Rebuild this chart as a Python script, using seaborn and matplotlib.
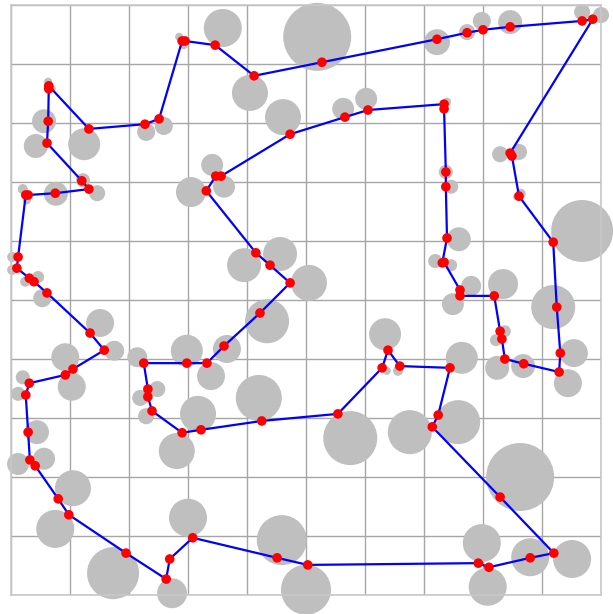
import numpy as np
import pandas as pd
import matplotlib
matplotlib.use("Agg")
import matplotlib.pyplot as plt
from matplotlib.patches import Circle
import seaborn as sns

# Route (tour) node coordinates, in visiting order (closed loop)
route_x = [0.64, 1.32, 2.27, 2.51, 2.90, 2.95, 3.46, 4.12, 5.27, 7.22,
           7.73, 8.00, 8.46, 9.68, 9.86, 8.46, 8.49, 8.61, 9.19, 9.25,
           9.31, 9.29, 8.69, 8.37, 8.32, 8.29, 8.19, 7.61, 7.61, 7.34,
           7.31, 7.39, 7.37, 7.37, 7.34, 7.34, 6.05, 5.66, 4.73, 3.56,
           3.47, 3.31, 4.15, 4.39, 4.73, 4.22, 3.61, 3.32, 2.98, 2.25,
           2.32, 2.32, 2.39, 2.90, 3.22, 4.25, 5.54, 6.29, 6.39, 6.59,
           7.44, 7.24, 7.14, 8.29, 9.20, 8.80, 8.10, 7.92, 5.03, 4.51,
           3.08, 2.69, 2.63, 1.95, 0.98, 0.80, 0.41, 0.32, 0.29, 0.25,
           0.31, 0.92, 1.05, 1.58, 1.34, 0.61, 0.39, 0.31, 0.10, 0.12,
           0.25, 0.29, 0.75, 1.32, 1.20, 0.61, 0.63, 0.64]
route_y = [8.63, 7.90, 7.98, 8.07, 9.39, 9.39, 9.32, 8.80, 9.03, 9.42,
           9.53, 9.58, 9.63, 9.73, 9.76, 7.49, 7.44, 6.76, 5.98, 4.88,
           4.10, 3.78, 3.92, 4.00, 4.34, 4.47, 5.07, 5.07, 5.17, 5.64,
           5.63, 6.05, 6.92, 7.17, 8.24, 8.32, 8.22, 8.10, 7.81, 7.10,
           7.10, 6.85, 5.80, 5.59, 5.29, 4.78, 4.22, 3.93, 3.93, 3.93,
           3.49, 3.36, 3.12, 2.75, 2.80, 2.95, 3.07, 3.85, 4.15, 3.88,
           3.85, 3.05, 2.85, 1.66, 0.71, 0.63, 0.47, 0.54, 0.51, 0.63,
           0.97, 0.61, 0.27, 0.71, 1.36, 1.63, 2.19, 2.29, 2.76, 3.39,
           3.59, 3.73, 3.83, 4.15, 4.44, 5.12, 5.31, 5.37, 5.54, 5.73,
           6.78, 6.78, 6.81, 6.88, 7.02, 7.66, 8.03, 8.58]

# Grey discs: centres and radii (data units)
disc_x = [0.63, 0.71, 0.56, 0.42, 1.24, 2.29, 2.59, 2.85, 2.93, 1.22,
          1.46, 0.76, 0.20, 0.27, 3.05, 3.41, 3.61, 3.59, 5.19, 4.05,
          4.61, 5.63, 6.02, 7.22, 7.73, 7.98, 8.46, 9.68, 10.00, 7.39,
          8.29, 8.61, 7.37, 7.46, 8.64, 9.68, 0.02, 0.02, 0.24, 0.46,
          0.53, 1.51, 1.75, 0.92, 1.03, 0.20, 0.12, 2.14, 2.98, 3.39,
          2.48, 2.19, 3.17, 3.95, 4.56, 5.05, 4.34, 3.66, 4.20, 6.34,
          6.37, 6.56, 7.59, 7.19, 7.46, 7.80, 8.34, 7.49, 9.19, 8.37,
          8.22, 7.64, 8.24, 8.68, 9.54, 9.44, 7.58, 6.76, 0.44, 0.12,
          0.56, 1.05, 0.75, 1.73, 2.73, 3.00, 2.81, 2.29, 5.75, 4.59,
          5.00, 8.63, 7.98, 8.08, 8.80, 9.51, 8.58]
disc_y = [8.70, 8.58, 8.03, 7.61, 7.64, 7.85, 7.95, 9.46, 9.32, 7.03,
          6.81, 6.80, 6.88, 6.69, 6.83, 7.29, 6.92, 9.61, 9.46, 8.51,
          8.10, 8.24, 8.41, 9.37, 9.54, 9.73, 9.71, 9.88, 9.83, 8.36,
          7.47, 7.51, 7.17, 6.92, 6.80, 6.17, 5.73, 5.51, 5.31, 5.39,
          5.03, 4.61, 4.14, 4.03, 3.53, 3.69, 3.41, 4.03, 4.14, 3.71,
          3.49, 3.34, 3.07, 5.59, 5.78, 5.29, 4.64, 4.17, 3.34, 4.42,
          3.80, 3.80, 6.03, 5.66, 5.59, 5.24, 5.27, 4.93, 4.88, 4.47,
          4.32, 4.02, 3.85, 3.88, 4.10, 3.59, 2.93, 2.76, 2.76, 2.22,
          2.31, 1.81, 1.12, 0.37, 0.03, 1.31, 2.44, 3.03, 2.66, 0.93,
          0.09, 2.00, 0.88, 0.14, 0.64, 0.61, 6.75]
disc_r = [0.068, 0.050, 0.203, 0.203, 0.271, 0.153, 0.153, 0.068, 0.068, 0.119,
          0.136, 0.203, 0.085, 0.068, 0.254, 0.186, 0.186, 0.322, 0.576, 0.305,
          0.305, 0.186, 0.186, 0.220, 0.136, 0.153, 0.203, 0.136, 0.136, 0.068,
          0.136, 0.136, 0.119, 0.119, 0.085, 0.525, 0.085, 0.085, 0.085, 0.102,
          0.153, 0.237, 0.169, 0.237, 0.237, 0.119, 0.119, 0.169, 0.271, 0.237,
          0.136, 0.136, 0.305, 0.288, 0.288, 0.305, 0.373, 0.237, 0.390, 0.271,
          0.068, 0.085, 0.203, 0.119, 0.102, 0.169, 0.254, 0.186, 0.373, 0.102,
          0.102, 0.271, 0.203, 0.203, 0.237, 0.237, 0.373, 0.373, 0.203, 0.186,
          0.186, 0.305, 0.322, 0.441, 0.254, 0.322, 0.305, 0.136, 0.458, 0.424,
          0.424, 0.576, 0.322, 0.322, 0.322, 0.322, 0.068]

grid_ticks = list(range(0, 11))

sns.set_style("white")
fig = plt.figure(figsize=(6.13, 6.14), dpi=100)
ax = fig.add_axes([11 / 613, 19 / 614, 590 / 613, 590 / 614])

# grey discs
for cx, cy, r in zip(disc_x, disc_y, disc_r):
    ax.add_patch(Circle((cx, cy), r, facecolor="#bfbfbf", edgecolor="none",
                        zorder=1, clip_on=False))

# closed tour
tour = pd.DataFrame({
    "x": route_x + route_x[:1],
    "y": route_y + route_y[:1],
})
tour["order"] = np.arange(len(tour))
sns.lineplot(data=tour, x="x", y="y", sort=False, estimator=None,
             color="#0000ff", linewidth=1.6, ax=ax, zorder=2)
sns.scatterplot(x=route_x, y=route_y, color="#ff0000", s=48,
                edgecolor="none", ax=ax, zorder=3, clip_on=False)

ax.set_xlim(0, 10)
ax.set_ylim(0, 10)
ax.set_xticks(grid_ticks)
ax.set_yticks(grid_ticks)
ax.set_xticklabels([])
ax.set_yticklabels([])
ax.tick_params(length=0)
ax.grid(True, color="#a6a6a6", linewidth=1.0, zorder=0)
ax.set_axisbelow(True)
ax.set_xlabel("")
ax.set_ylabel("")
for sp in ax.spines.values():
    sp.set_color("#c8c8c8")
    sp.set_linewidth(1.2)

fig.savefig("out.png", dpi=100)
